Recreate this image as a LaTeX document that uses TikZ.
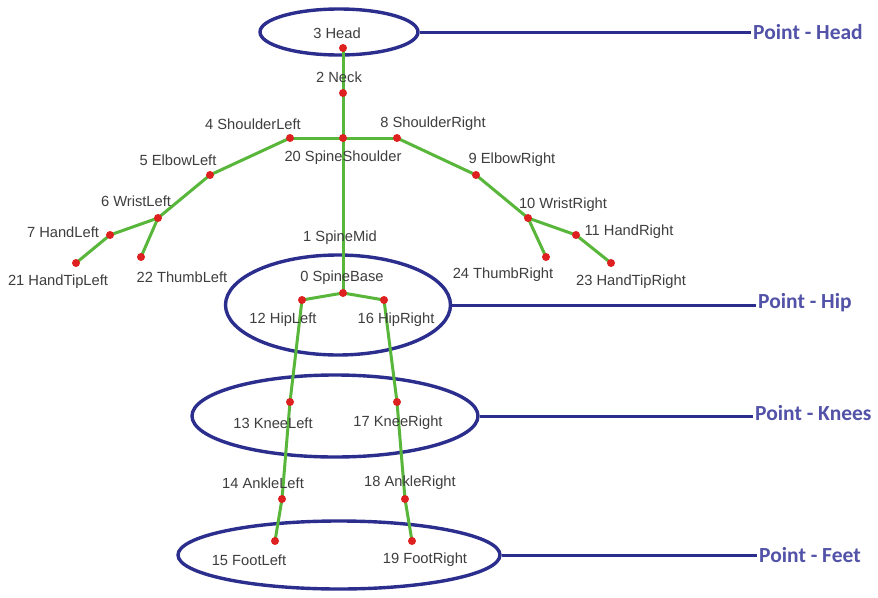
\documentclass[tikz,border=0pt]{standalone}
\usepackage{fontspec}
\setmainfont{Liberation Sans}
\newfontfamily\tagfont{Carlito}
\usetikzlibrary{shapes.geometric}
\definecolor{bonegreen}{RGB}{88,182,58}
\definecolor{jointred}{RGB}{222,32,32}
\definecolor{ringblue}{RGB}{44,46,142}
\definecolor{tagblue}{RGB}{82,82,168}
\definecolor{labelgray}{RGB}{62,62,62}
\tikzset{
  bone/.style={draw=bonegreen, line width=3pt, line join=round, line cap=round},
  joint/.style={circle, fill=jointred, inner sep=0pt, minimum size=8pt},
  jlabel/.style={text=labelgray, inner sep=0pt, font=\fontsize{14.7}{16}\selectfont},
  ring/.style={draw=ringblue, line width=3.4pt, ellipse, inner sep=0pt},
  leader/.style={draw=ringblue, line width=3pt},
  tag/.style={text=tagblue, anchor=west, inner sep=2pt, font=\tagfont\bfseries\fontsize{21.5}{24}\selectfont}
}
\begin{document}
\begin{tikzpicture}[x=1pt, y=-1pt]
\useasboundingbox[fill=white] (0,0) rectangle (878,597);

% body regions
\node[ring, minimum width=158pt, minimum height=46pt] (headring) at (339,32) {};
\node[ring, minimum width=225pt, minimum height=100pt] (hipring) at (338,305) {};
\node[ring, minimum width=286pt, minimum height=82pt] (kneering) at (335,416) {};
\node[ring, minimum width=322pt, minimum height=68pt] (footring) at (339,555) {};

% region tags
\node[tag] (headtag) at (751,32) {Point - Head};
\node[tag] (hiptag) at (756,303) {Point - Hip};
\node[tag] (kneetag) at (753,413) {Point - Knees};
\node[tag] (foottag) at (757,555) {Point - Feet};
\draw[leader] (headring.east) -- (headring.east -| headtag.west);
\draw[leader] (hipring.east) -- (hipring.east -| hiptag.west);
\draw[leader] (kneering.east) -- (kneering.east -| kneetag.west);
\draw[leader] (footring.east) -- (footring.east -| foottag.west);

% joint positions
\coordinate (head) at (343,48);
\coordinate (neck) at (343,93);
\coordinate (spineshoulder) at (343,138);
\coordinate (spinemid) at (343,240);
\coordinate (spinebase) at (343,293);
\coordinate (shoulderleft) at (290,138);
\coordinate (elbowleft) at (210,175);
\coordinate (wristleft) at (158,218);
\coordinate (handleft) at (110,235);
\coordinate (handtipleft) at (76,263);
\coordinate (thumbleft) at (141,257);
\coordinate (shoulderright) at (397,138);
\coordinate (elbowright) at (476,175);
\coordinate (wristright) at (528,218);
\coordinate (handright) at (576,235);
\coordinate (handtipright) at (611,263);
\coordinate (thumbright) at (546,257);
\coordinate (hipleft) at (302,300);
\coordinate (hipright) at (384,300);
\coordinate (kneeleft) at (290,402);
\coordinate (kneeright) at (397,402);
\coordinate (ankleleft) at (282,499);
\coordinate (ankleright) at (405,499);
\coordinate (footleft) at (275,541);
\coordinate (footright) at (412,541);

% skeleton
\draw[bone] (head) -- (neck) -- (spineshoulder) -- (spinemid) -- (spinebase);
\draw[bone] (shoulderleft) -- (spineshoulder) -- (shoulderright);
\draw[bone] (shoulderleft) -- (elbowleft) -- (wristleft) -- (handleft) -- (handtipleft);
\draw[bone] (wristleft) -- (thumbleft);
\draw[bone] (shoulderright) -- (elbowright) -- (wristright) -- (handright) -- (handtipright);
\draw[bone] (wristright) -- (thumbright);
\draw[bone] (hipleft) -- (spinebase) -- (hipright);
\draw[bone] (hipleft) -- (kneeleft) -- (ankleleft) -- (footleft);
\draw[bone] (hipright) -- (kneeright) -- (ankleright) -- (footright);

% joints
\foreach \j in {head,neck,spineshoulder,spinebase,shoulderleft,elbowleft,wristleft,
  handleft,handtipleft,thumbleft,shoulderright,elbowright,wristright,handright,
  handtipright,thumbright,hipleft,hipright,kneeleft,kneeright,ankleleft,ankleright,
  footleft,footright}
  \node[joint] (dot-\j) at (\j) {};

% joint labels
\node[jlabel] (l3) at (337,33) {3 Head};
\node[jlabel] (l2) at (339,77) {2 Neck};
\node[jlabel] (l4) at (253,124) {4 ShoulderLeft};
\node[jlabel] (l8) at (433,124) {8 ShoulderRight};
\node[jlabel] (l20) at (343,158) {20 SpineShoulder};
\node[jlabel] (l5) at (178,160) {5 ElbowLeft};
\node[jlabel] (l6) at (136,201) {6 WristLeft};
\node[jlabel] (l7) at (63,232) {7 HandLeft};
\node[jlabel] (l21) at (58,282) {21 HandTipLeft};
\node[jlabel] (l22) at (182,277) {22 ThumbLeft};
\node[jlabel] (l9) at (512,160) {9 ElbowRight};
\node[jlabel] (l10) at (563,205) {10 WristRight};
\node[jlabel] (l11) at (629,232) {11 HandRight};
\node[jlabel] (l23) at (631,282) {23 HandTipRight};
\node[jlabel] (l24) at (503,275) {24 ThumbRight};
\node[jlabel] (l1) at (340,238) {1 SpineMid};
\node[jlabel] (l0) at (342,278) {0 SpineBase};
\node[jlabel] (l12) at (283,320) {12 HipLeft};
\node[jlabel] (l16) at (396,320) {16 HipRight};
\node[jlabel] (l13) at (273,423) {13 KneeLeft};
\node[jlabel] (l17) at (398,423) {17 KneeRight};
\node[jlabel] (l14) at (263,483) {14 AnkleLeft};
\node[jlabel] (l18) at (410,483) {18 AnkleRight};
\node[jlabel] (l15) at (249,560) {15 FootLeft};
\node[jlabel] (l19) at (425,560) {19 FootRight};
\end{tikzpicture}
\end{document}
